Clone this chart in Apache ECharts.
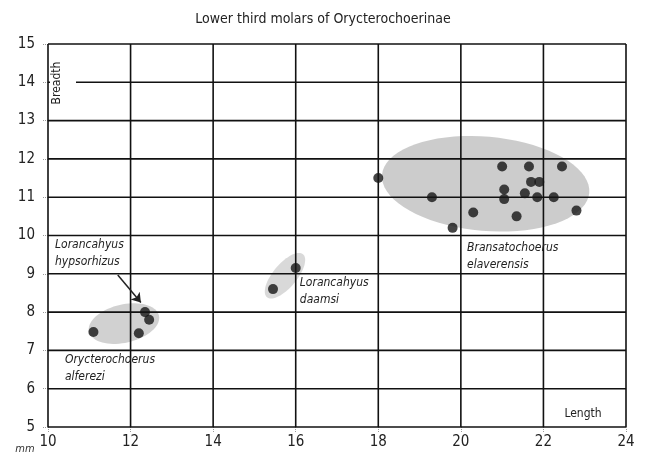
<!DOCTYPE html>
<html><head><meta charset="utf-8">
<script src="https://cdn.jsdelivr.net/npm/echarts@6/dist/echarts.min.js"></script>
<style>html,body{margin:0;padding:0;background:#fff}#c{width:646px;height:463px}</style>
</head><body><div id="c"></div>
<script>
const FONT = "'Liberation Sans Narrow','DejaVu Sans Condensed','Liberation Sans',sans-serif";
const titleText = 'Lower third molars of Orycterochoerinae';
const xLabel = 'Length';
const yLabel = 'Breadth';
const unitLabel = 'mm';
const xTicks = [10, 12, 14, 16, 18, 20, 22, 24];
const yTicks = [5, 6, 7, 8, 9, 10, 11, 12, 13, 14, 15];

// Bransatochoerus elaverensis
const bransLength  = [18.0, 19.3, 19.8, 20.3, 21.0, 21.65, 22.45, 21.05, 21.05, 21.7, 21.9, 21.55, 21.85, 22.25, 22.8, 21.35];
const bransBreadth = [11.5, 11.0, 10.2, 10.6, 11.8, 11.8, 11.8, 11.2, 10.95, 11.4, 11.4, 11.1, 11.0, 11.0, 10.65, 10.5];
// Lorancahyus daamsi
const daamsiLength  = [15.45, 16.0];
const daamsiBreadth = [8.6, 9.15];
// Lorancahyus hypsorhizus
const hypsoLength  = [12.35, 12.45];
const hypsoBreadth = [8.0, 7.8];
// Orycterochoerus alferezi
const alfLength  = [11.1, 12.2];
const alfBreadth = [7.48, 7.45];

// group envelopes (centre, semi-axes in data units, tilt in degrees)
const ellCx = [20.6, 15.74, 11.84];
const ellCy = [11.35, 8.95, 7.7];
const ellRx = [2.52, 0.68, 0.87];
const ellRy = [1.23, 0.31, 0.5];
const ellAngle = [-5, 50, 13];
const ellColor = ['rgba(0,0,0,0.2)', 'rgba(0,0,0,0.15)', 'rgba(0,0,0,0.18)'];

// annotations
const noteText = ['Lorancahyus\nhypsorhizus', 'Orycterochoerus\nalferezi', 'Lorancahyus\ndaamsi', 'Bransatochoerus\nelaverensis'];
const noteX = [10.17, 10.41, 16.1, 20.15];
const noteY = [9.75, 6.75, 8.76, 9.68];
const arrowX = [11.69, 12.25];
const arrowY = [8.97, 8.25];

const zip = (a, b) => a.map((v, i) => [v, b[i]]);
const chart = echarts.init(document.getElementById('c'));
const GRID_COLOR = '#111';

const axisCommon = {
  type: 'value',
  axisLine: {show: false},
  splitLine: {show: false},
  axisTick: {show: true, length: 5, lineStyle: {color: '#999', type: 'dotted'}},
  axisLabel: {color: '#222', fontSize: 15, fontFamily: FONT}
};

const dot = {type: 'scatter', symbol: 'circle', symbolSize: 10, itemStyle: {color: '#151515'}, z: 5};

chart.setOption({
  animation: false,
  title: {text: titleText, left: 'center', top: 7, textStyle: {fontSize: 14, fontWeight: 'normal', color: '#222', fontFamily: FONT}},
  grid: {left: 48, right: 20, top: 44, bottom: 36},
  xAxis: Object.assign({}, axisCommon, {min: 10, max: 24, interval: 2, axisLabel: Object.assign({}, axisCommon.axisLabel, {margin: 8})}),
  yAxis: Object.assign({}, axisCommon, {min: 5, max: 15, interval: 1, axisLabel: Object.assign({}, axisCommon.axisLabel, {margin: 13})}),
  series: [
    {
      // shaded group envelopes, outlined as polygons
      type: 'custom', z: 1, silent: true, clip: false,
      data: ellCx.map((v, i) => [v, ellCy[i], ellRx[i], ellRy[i], ellAngle[i]]),
      renderItem: (params, api) => {
        const i = params.dataIndex;
        const c = api.coord([api.value(0), api.value(1)]);
        const s = api.size([api.value(2), api.value(3)]);
        const rot = -api.value(4) * Math.PI / 180;
        const pts = [];
        for (let k = 0; k < 72; k++) {
          const t = k / 72 * Math.PI * 2;
          const ex = s[0] * Math.cos(t), ey = s[1] * Math.sin(t);
          pts.push([c[0] + ex * Math.cos(rot) - ey * Math.sin(rot), c[1] + ex * Math.sin(rot) + ey * Math.cos(rot)]);
        }
        return {type: 'polygon', shape: {points: pts}, style: {fill: ellColor[i]}};
      }
    },
    {
      // grid lines on top of the envelopes
      type: 'custom', z: 3, silent: true, clip: false,
      data: [[xTicks[0], yTicks[0]]],
      renderItem: (params, api) => {
        const x0 = xTicks[0], x1 = xTicks[xTicks.length - 1];
        const y0 = yTicks[0], y1 = yTicks[yTicks.length - 1];
        const children = [];
        xTicks.forEach(t => {
          const a = api.coord([t, y0]), b = api.coord([t, y1]);
          children.push({type: 'line', shape: {x1: a[0], y1: a[1], x2: b[0], y2: b[1]}, style: {stroke: GRID_COLOR, lineWidth: 1.6}});
        });
        yTicks.forEach(t => {
          const a = api.coord([x0, t]), b = api.coord([x1, t]);
          children.push({type: 'line', shape: {x1: a[0], y1: a[1], x2: b[0], y2: b[1]}, style: {stroke: GRID_COLOR, lineWidth: 1.6}});
        });
        return {type: 'group', children};
      }
    },
    Object.assign({}, dot, {name: 'Bransatochoerus elaverensis', data: zip(bransLength, bransBreadth)}),
    Object.assign({}, dot, {name: 'Lorancahyus daamsi', data: zip(daamsiLength, daamsiBreadth)}),
    Object.assign({}, dot, {name: 'Lorancahyus hypsorhizus', data: zip(hypsoLength, hypsoBreadth)}),
    Object.assign({}, dot, {name: 'Orycterochoerus alferezi', data: zip(alfLength, alfBreadth)}),
    {
      type: 'lines', coordinateSystem: 'cartesian2d', z: 6, silent: true,
      symbol: ['none', 'arrow'], symbolSize: 9,
      lineStyle: {color: '#222', width: 1.5, opacity: 1},
      data: [{coords: zip(arrowX, arrowY)}]
    },
    {
      type: 'custom', z: 7, silent: true,
      data: noteX.map((v, i) => [v, noteY[i]]),
      renderItem: (params, api) => {
        const c = api.coord([api.value(0), api.value(1)]);
        return {
          type: 'text', x: c[0], y: c[1] - 8.5,
          style: {text: noteText[params.dataIndex], fontSize: 12, fontStyle: 'italic', fontFamily: FONT,
                  fill: '#222', align: 'left', verticalAlign: 'top', lineHeight: 17}
        };
      }
    }
  ],
  graphic: [
    {type: 'rect', shape: {x: 50, y: 56, width: 26, height: 56}, style: {fill: '#fff'}, z: 10},
    {type: 'text', x: 57, y: 83, rotation: Math.PI / 2, style: {text: yLabel, fontSize: 12, fontFamily: FONT, fill: '#222', align: 'center', verticalAlign: 'middle'}, z: 11},
    {type: 'text', x: 583, y: 414, style: {text: xLabel, fontSize: 12, fontFamily: FONT, fill: '#222', align: 'center', verticalAlign: 'middle'}, z: 11},
    {type: 'text', x: 25, y: 449, style: {text: unitLabel, fontSize: 11, fontStyle: 'italic', fontFamily: FONT, fill: '#333', align: 'center', verticalAlign: 'middle'}, z: 11}
  ]
});
</script></body></html>
